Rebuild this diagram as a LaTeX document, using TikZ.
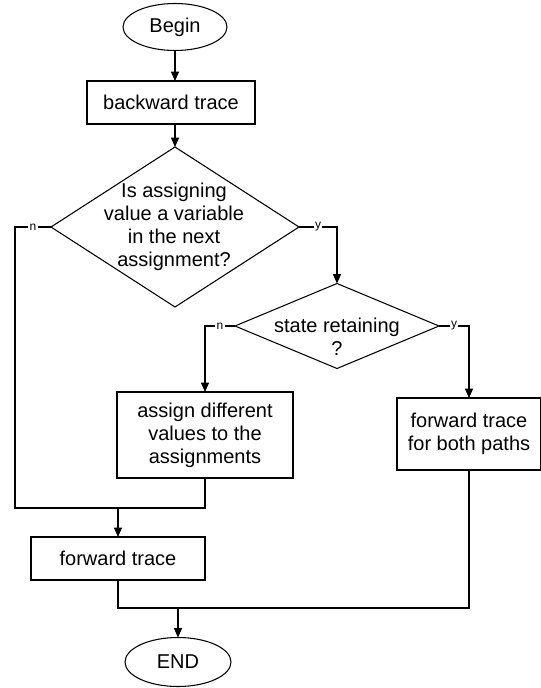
\documentclass[tikz,border=0pt]{standalone}
\usepackage{fontspec}
\setmainfont{Liberation Sans}
\usetikzlibrary{shapes.geometric,arrows.meta}
\newdimen\pxu \pxu=0.75pt
\begin{document}
\begin{tikzpicture}[x=0.75pt,y=-0.75pt,
  every node/.style={inner sep=0pt, outer sep=0pt},
  line/.style={draw=black, line width=0.8pt},
  arr/.style={line, -{Triangle[length=7pt,width=6pt]}},
  txt/.style={align=center, font=\fontsize{15}{17.25}\selectfont},
  boxn/.style={draw, line width=0.8pt, rectangle, txt},
  ovaln/.style={draw, line width=0.8pt, ellipse, txt},
  dmd/.style={draw, line width=0.8pt, diamond},
  lab/.style={fill=white, inner sep=1pt, font=\fontsize{9}{10}\selectfont}
]
\fill[white] (0,0) rectangle (540,688);
\useasboundingbox (0,0) rectangle (540,688);

\node[ovaln, minimum width=104\pxu, minimum height=47\pxu] (begin) at (175,27) {Begin};
\node[boxn, minimum width=168\pxu, minimum height=43\pxu] (bt) at (171,102.5) {backward trace};
\node[dmd, minimum width=248\pxu, minimum height=160\pxu] (d1) at (175,227) {};
\node[txt] (d1t) at (174,227) {Is assigning\\value a variable\\in the next\\assignment?};
\node[dmd, minimum width=204\pxu, minimum height=85\pxu] (d2) at (337,326) {};
\node[txt] (d2t) at (337,337) {state retaining\\?};
\node[boxn, minimum width=176\pxu, minimum height=86\pxu] (asg) at (205,435) {assign different\\values to the\\assignments};
\node[boxn, minimum width=144\pxu, minimum height=72\pxu] (fb) at (469,434) {forward trace\\for both paths};
\node[boxn, minimum width=174\pxu, minimum height=43\pxu] (ft) at (118,558.5) {forward trace};
\node[ovaln, minimum width=106\pxu, minimum height=49\pxu] (end) at (178,662) {END};

\coordinate (cL1) at (15,227);
\coordinate (cL2) at (15,508);
\coordinate (m1) at (205,508);
\coordinate (cR1) at (337,227);
\coordinate (c2L) at (205,326);
\coordinate (c2R) at (469,326);
\coordinate (cfb) at (469,608);
\coordinate (m2) at (118,608);

\draw[arr] (begin.south) -- (begin.south |- bt.north);
\draw[arr] (d1.north |- bt.south) -- (d1.north);
\draw[line] (d1.west) -- node[lab]{n} (cL1) -- (cL2) -- (m1) -- (asg.south);
\draw[arr] (ft.north |- m1) -- (ft.north);
\draw[arr] (d1.east) -- node[lab]{y} (cR1) -- (d2.north);
\draw[arr] (d2.west) -- node[lab]{n} (c2L) -- (asg.north);
\draw[arr] (d2.east) -- node[lab]{y} (c2R) -- (fb.north);
\draw[line] (fb.south) -- (cfb) -- (m2) -- (ft.south);
\draw[arr] (end.north |- m2) -- (end.north);
\end{tikzpicture}
\end{document}
